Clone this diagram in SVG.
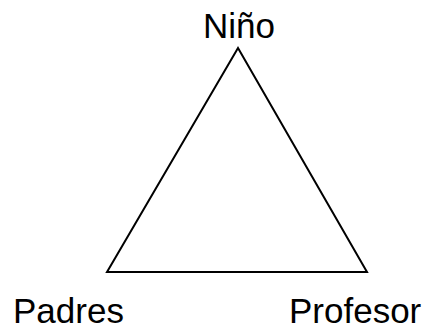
<svg xmlns="http://www.w3.org/2000/svg" width="433" height="332" viewBox="0 0 433 332">
<style>
.lbl{font-family:"Liberation Sans",Arial,sans-serif;font-size:35px;fill:#000}
.edge{stroke:#000;stroke-width:2;fill:none}
</style>
<rect width="433" height="332" fill="#fff"/>
<g id="connectors">
<path class="edge" d="M238 48 L107 272 L367 272 Z" stroke-linejoin="miter"/>
</g>
<g id="nino"><text class="lbl" x="239" y="38" text-anchor="middle">Niño</text></g>
<g id="padres"><text class="lbl" x="13" y="323">Padres</text></g>
<g id="profesor"><text class="lbl" x="289" y="323">Profesor</text></g>
</svg>
